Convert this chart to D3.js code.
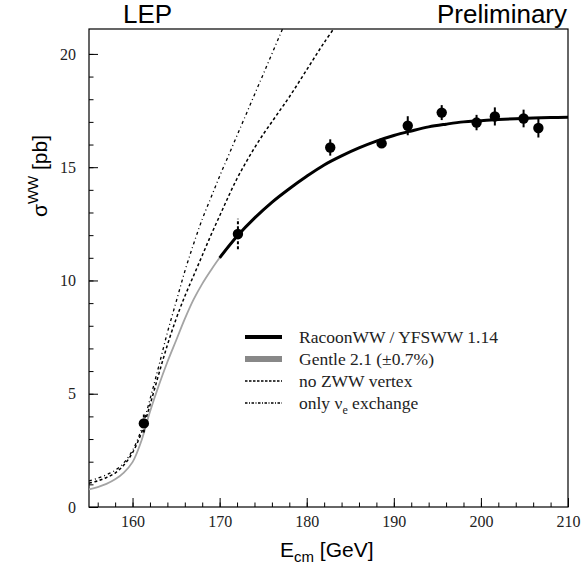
<!DOCTYPE html>
<html>
<head>
<meta charset="utf-8">
<script src="https://cdn.jsdelivr.net/npm/d3@7"></script>
<style>
  html, body { margin: 0; padding: 0; background: #fff; }
  svg { display: block; }
</style>
</head>
<body>
<div id="chart"></div>
<script>
// LEP W-pair cross section measurements
const energies = [161.3, 172.1, 182.7, 188.6, 191.6, 195.5, 199.5, 201.6, 204.9, 206.6]
const sigmaMeasured = [3.69, 12.05, 15.87, 16.05, 16.83, 17.41, 16.97, 17.24, 17.15, 16.73]
const sigmaError = [0.4, 0.67, 0.36, 0.2, 0.42, 0.33, 0.34, 0.4, 0.39, 0.42]

// theory curves
const gentleE = [155, 156, 157, 158, 159, 160, 161, 162, 163, 164, 165, 166, 167, 168, 169, 170, 172, 174, 176, 178, 180]
const gentleSigma = [0.78, 0.88, 1.02, 1.22, 1.52, 1.98, 2.9, 4.2, 5.35, 6.4, 7.35, 8.3, 9.15, 9.85, 10.45, 11.0, 11.95, 12.75, 13.45, 14.05, 14.6]
const racoonE = [170, 172, 174, 176, 178, 180, 182, 184, 186, 188, 190, 192, 194, 196, 198, 200, 202, 204, 206, 208, 210]
const racoonSigma = [11.0, 11.95, 12.75, 13.45, 14.05, 14.6, 15.1, 15.5, 15.85, 16.15, 16.4, 16.6, 16.78, 16.9, 17.0, 17.05, 17.1, 17.14, 17.17, 17.19, 17.2]
const noZwwE = [155, 156, 157, 158, 159, 160, 161, 162, 163, 164, 165, 166, 167, 168, 169, 170, 171, 172, 173, 174, 175, 176, 177, 178, 180, 182, 184]
const noZwwSigma = [1.05, 1.15, 1.3, 1.5, 1.85, 2.4, 3.25, 4.5, 5.85, 7.15, 8.3, 9.3, 10.2, 11.1, 12.0, 12.85, 13.7, 14.5, 15.2, 15.85, 16.45, 17.0, 17.55, 18.1, 19.3, 20.5, 21.6]
const onlyNueE = [155, 156, 157, 158, 159, 160, 161, 162, 163, 164, 165, 166, 167, 168, 169, 170, 171, 172, 173, 174, 175, 176, 177, 178]
const onlyNueSigma = [1.15, 1.27, 1.42, 1.62, 1.95, 2.5, 3.4, 4.75, 6.2, 7.7, 9.05, 10.4, 11.6, 12.7, 13.65, 14.6, 15.5, 16.4, 17.3, 18.2, 19.1, 20.0, 20.9, 21.8]

const xTicks = [160, 170, 180, 190, 200, 210]
const yTicks = [0, 5, 10, 15, 20]

const width = 582
const height = 569
const margin = { top: 29, right: 14, bottom: 62, left: 89 }

const x = d3.scaleLinear().domain([155, 210]).range([margin.left, width - margin.right])
const y = d3.scaleLinear().domain([0, 21.1]).range([height - margin.bottom, margin.top])

const svg = d3.select("#chart").append("svg")
    .attr("width", width)
    .attr("height", height)

svg.append("defs").append("clipPath").attr("id", "plotclip")
    .append("rect")
    .attr("x", margin.left).attr("y", margin.top)
    .attr("width", width - margin.left - margin.right)
    .attr("height", height - margin.top - margin.bottom)

const serif = "'Liberation Serif', 'Times New Roman', serif"
const sans = "'Liberation Sans', Arial, sans-serif"

// minor ticks
svg.append("g")
    .attr("transform", `translate(0,${y(0)})`)
    .call(d3.axisBottom(x).tickValues(d3.range(156, 210.1, 2)).tickSize(-4.5).tickFormat(""))
    .call(g => g.select(".domain").remove())
svg.append("g")
    .attr("transform", `translate(${x(155)},0)`)
    .call(d3.axisLeft(y).tickValues(d3.range(1, 21, 1)).tickSize(-4.5).tickFormat(""))
    .call(g => g.select(".domain").remove())

// major ticks + labels
const xAxis = svg.append("g")
    .attr("transform", `translate(0,${y(0)})`)
    .call(d3.axisBottom(x).tickValues(xTicks).tickSize(-9).tickPadding(9).tickFormat(d3.format("d")))
xAxis.select(".domain").remove()
xAxis.selectAll("text").attr("font-family", serif).attr("font-size", 16).attr("fill", "#222")

const yAxis = svg.append("g")
    .attr("transform", `translate(${x(155)},0)`)
    .call(d3.axisLeft(y).tickValues(yTicks).tickSize(-9).tickPadding(13).tickFormat(d3.format("d")))
yAxis.select(".domain").remove()
yAxis.selectAll("text").attr("font-family", serif).attr("font-size", 16).attr("fill", "#222")
svg.selectAll(".tick line").attr("stroke", "#000").attr("stroke-width", 1)

// frame
svg.append("rect")
    .attr("x", margin.left).attr("y", margin.top)
    .attr("width", width - margin.left - margin.right)
    .attr("height", height - margin.top - margin.bottom)
    .attr("fill", "none").attr("stroke", "#000").attr("stroke-width", 1.2)

const plot = svg.append("g").attr("clip-path", "url(#plotclip)")

const line = d3.line()
    .x(d => x(d[0]))
    .y(d => y(d[1]))
    .curve(d3.curveCatmullRom.alpha(0.5))

plot.append("path")
    .datum(d3.zip(gentleE, gentleSigma))
    .attr("d", line)
    .attr("fill", "none").attr("stroke", "#a4a4a4").attr("stroke-width", 1.8)

plot.append("path")
    .datum(d3.zip(noZwwE, noZwwSigma))
    .attr("d", line)
    .attr("fill", "none").attr("stroke", "#000").attr("stroke-width", 1.5)
    .attr("stroke-dasharray", "3,2.5")

plot.append("path")
    .datum(d3.zip(onlyNueE, onlyNueSigma))
    .attr("d", line)
    .attr("fill", "none").attr("stroke", "#000").attr("stroke-width", 1.3)
    .attr("stroke-dasharray", "3,3,1,3")

plot.append("path")
    .datum(d3.zip(racoonE, racoonSigma))
    .attr("d", line)
    .attr("fill", "none").attr("stroke", "#000").attr("stroke-width", 3)

// data points
const points = d3.zip(energies, sigmaMeasured, sigmaError)
plot.selectAll("line.err")
    .data(points)
    .join("line")
    .attr("class", "err")
    .attr("x1", d => x(d[0])).attr("x2", d => x(d[0]))
    .attr("y1", d => y(d[1] - d[2])).attr("y2", d => y(d[1] + d[2]))
    .attr("stroke", "#000").attr("stroke-width", 2)
    .attr("stroke-dasharray", d => d[0] < 175 ? "3,2" : null)
plot.selectAll("circle")
    .data(points)
    .join("circle")
    .attr("cx", d => x(d[0]))
    .attr("cy", d => y(d[1]))
    .attr("r", 5.2)
    .attr("fill", "#000")

// legend
const legendItems = [
    { label: "RacoonWW / YFSWW 1.14", stroke: "#000", width: 4, dash: null },
    { label: "Gentle 2.1 (±0.7%)", stroke: "#888", width: 6, dash: null },
    { label: "no ZWW vertex", stroke: "#000", width: 1.3, dash: "2.5,1.5" },
    { label: "only ν", sub: "e", tail: " exchange", stroke: "#000", width: 1.3, dash: "2.5,1.5,1,1.5" }
]
const legend = svg.append("g")
const rowY = i => 337 + i * 22
legend.selectAll("line")
    .data(legendItems)
    .join("line")
    .attr("x1", 245).attr("x2", 282)
    .attr("y1", (d, i) => rowY(i)).attr("y2", (d, i) => rowY(i))
    .attr("stroke", d => d.stroke)
    .attr("stroke-width", d => d.width)
    .attr("stroke-dasharray", d => d.dash)
const legendText = legend.selectAll("text")
    .data(legendItems)
    .join("text")
    .attr("x", 299)
    .attr("y", (d, i) => rowY(i) + 6)
    .attr("font-family", serif)
    .attr("font-size", 17.5)
    .attr("fill", "#222")
    .text(d => d.label)
legendText.filter(d => d.sub).append("tspan")
    .attr("dy", 5).attr("font-size", 12).text(d => d.sub)
legendText.filter(d => d.sub).append("tspan")
    .attr("dy", -5).text(d => d.tail)

// titles
svg.append("text")
    .attr("x", 123).attr("y", 23)
    .attr("font-family", sans).attr("font-size", 26)
    .text("LEP")
svg.append("text")
    .attr("x", 567).attr("y", 23)
    .attr("text-anchor", "end")
    .attr("font-family", sans).attr("font-size", 26)
    .text("Preliminary")

const xLabel = svg.append("text")
    .attr("x", 280).attr("y", 557)
    .attr("font-family", sans).attr("font-size", 21)
    .text("E")
xLabel.append("tspan").attr("dy", 5).attr("font-size", 15).text("cm")
xLabel.append("tspan").attr("dy", -5).text(" [GeV]")

const yLabel = svg.append("text")
    .attr("transform", "translate(47,176) rotate(-90)")
    .attr("text-anchor", "middle")
    .attr("font-family", sans).attr("font-size", 21)
    .text("σ")
yLabel.append("tspan").attr("dy", -9).attr("font-size", 15).text("WW")
yLabel.append("tspan").attr("dy", 9).text(" [pb]")
</script>
</body>
</html>
